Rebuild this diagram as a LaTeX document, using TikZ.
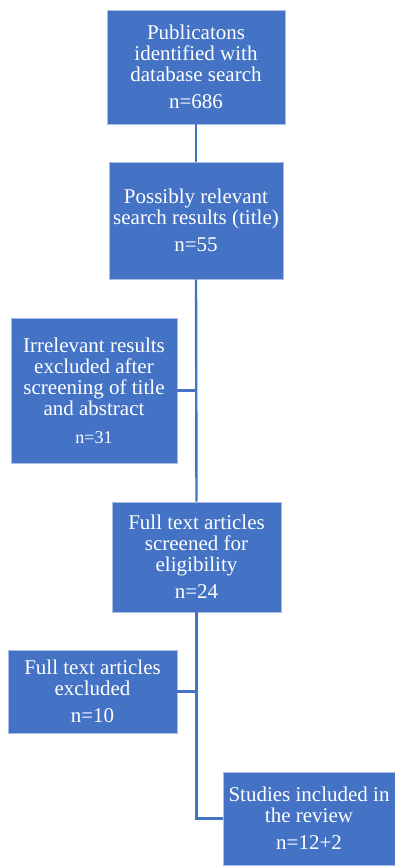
\documentclass[tikz,border=0pt]{standalone}
\usepackage{fontspec}
\setmainfont{Liberation Serif}
\usepackage{xcolor}
\usepackage{tikz}
\usetikzlibrary{positioning}
\definecolor{boxblue}{HTML}{4472C4}
\definecolor{edgeblue}{HTML}{A9BEE4}

\begin{document}
\begin{tikzpicture}[x=1pt, y=-1pt,
    stage/.style={fill=boxblue, draw=edgeblue, line width=0.6pt, text=white, align=center,
        inner sep=0pt, font=\fontsize{21}{21}\selectfont},
    link/.style={draw=boxblue, line width=2.4pt}]
    \useasboundingbox (0,0) rectangle (395,866);
    \node[stage, minimum width=178pt, minimum height=114pt] (found) at (196,67)
        {Publicatons\\identified with\\database search\\[6pt]n=686};
    \node[stage, minimum width=174pt, minimum height=117pt] (relevant) at (196,220.5)
        {Possibly relevant\\search results (title)\\[6pt]n=55};
    \node[stage, minimum width=166pt, minimum height=145pt] (irrelevant) at (94,390.5)
        {Irrelevant results\\excluded after\\screening of title\\and abstract\\[7pt]{\fontsize{18}{18}\selectfont n=31}};
    \node[stage, minimum width=169pt, minimum height=110pt] (screened) at (196.5,557)
        {Full text articles\\screened for\\eligibility\\[6pt]n=24};
    \node[stage, minimum width=169pt, minimum height=83pt] (excluded) at (92.5,691.5)
        {Full text articles\\excluded\\[6pt]n=10};
    \node[stage, minimum width=172pt, minimum height=93pt] (included) at (309,818.5)
        {Studies included in\\the review\\[6pt]n=12+2};

    \draw[link] (found.south) -- (relevant.north);
    \draw[link] (relevant.south) -- (screened.north);
    \draw[link] (irrelevant.east) -- (irrelevant.east -| relevant.south);
    \draw[link] (screened.south) |- (included.west);
    \draw[link] (excluded.east) -- (excluded.east -| screened.south);
\end{tikzpicture}
\end{document}
